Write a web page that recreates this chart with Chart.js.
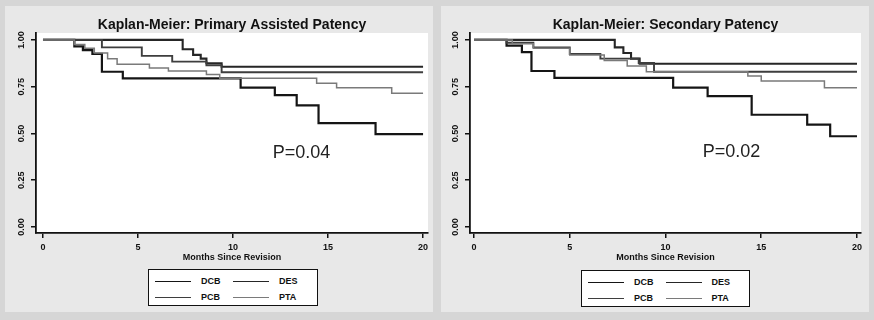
<!DOCTYPE html>
<html>
<head>
<meta charset="utf-8">
<script src="https://cdn.jsdelivr.net/npm/chart.js@4.4.1/dist/chart.umd.min.js"></script>
<style>
  body { margin: 0; width: 874px; height: 320px; background: #d6d6d6; position: relative; overflow: hidden; font-family: "Liberation Sans", Arial, sans-serif; }
  .panel { position: absolute; top: 6px; width: 428px; height: 306px; background: #e8e8e8; }
  canvas { position: absolute; top: 0; }
  .legend { position: absolute; border: 1.5px solid #111; background: #fff; box-sizing: border-box; display: grid; grid-template-columns: 1fr 1fr; padding: 4px 6px; row-gap: 2px; }
  .legend div { display: flex; align-items: center; font: bold 9px "Liberation Sans", Arial, sans-serif; color: #111; height: 14px; }
  .legend span.ln { display: inline-block; width: 36px; margin-right: 10px; }
</style>
</head>
<body>
<div class="panel" style="left:5px"></div>
<div class="panel" style="left:441px"></div>
<canvas id="km_primary" width="437" height="320" style="left:0"></canvas>
<canvas id="km_secondary" width="437" height="320" style="left:437px"></canvas>
<div class="legend" id="leg_primary" style="left:148px; top:269px; width:170px; height:37px"></div>
<div class="legend" id="leg_secondary" style="left:581px; top:270px; width:169px; height:37px"></div>
<script>
// Curvas Kaplan-Meier (mes de la caida, supervivencia tras la caida)
const grupos = ['DCB', 'DES', 'PCB', 'PTA'];
const colores = ['#151515', '#262626', '#3e3e3e', '#7a7a7a'];
const grosores = [2.2, 2.1, 1.9, 1.5];
const xTicks = [0, 5, 10, 15, 20];
const yTicks = [0, 0.25, 0.5, 0.75, 1];

// Primary assisted patency
const priDcbT = [0, 1.65, 2.1, 2.6, 3.1, 4.2, 10.4, 12.2, 13.35, 14.5, 17.5, 20];
const priDcbS = [1, 0.965, 0.945, 0.925, 0.83, 0.795, 0.745, 0.705, 0.65, 0.555, 0.497, 0.497];
const priDesT = [0, 7.35, 7.9, 8.3, 8.6, 9.4, 20];
const priDesS = [1, 0.95, 0.92, 0.9, 0.875, 0.857, 0.857];
const priPcbT = [0, 3.1, 5.2, 6.8, 8.6, 9.4, 20];
const priPcbS = [1, 0.96, 0.915, 0.884, 0.865, 0.827, 0.827];
const priPtaT = [0, 1.65, 2.2, 2.7, 3.4, 3.9, 5.6, 6.6, 8.6, 9.3, 14.4, 15.45, 18.35, 20];
const priPtaS = [1, 0.975, 0.955, 0.93, 0.9, 0.87, 0.85, 0.834, 0.815, 0.795, 0.768, 0.745, 0.715, 0.715];

// Secondary patency
const secDcbT = [0, 1.7, 2.5, 3.0, 4.2, 10.4, 12.2, 14.5, 17.4, 18.6, 20];
const secDcbS = [1, 0.97, 0.935, 0.834, 0.797, 0.745, 0.7, 0.6, 0.547, 0.485, 0.485];
const secDesT = [0, 7.35, 7.8, 8.2, 8.65, 20];
const secDesS = [1, 0.96, 0.93, 0.9, 0.873, 0.873];
const secPcbT = [0, 1.7, 3.1, 5.0, 6.6, 8.6, 9.4, 20];
const secPcbS = [1, 0.985, 0.96, 0.925, 0.9, 0.877, 0.83, 0.83];
const secPtaT = [0, 2.0, 3.1, 5.0, 6.8, 8.0, 9.0, 14.3, 15.0, 18.3, 20];
const secPtaS = [1, 0.98, 0.955, 0.92, 0.89, 0.86, 0.83, 0.807, 0.78, 0.745, 0.745];

const pares = (t, s) => t.map((v, i) => ({ x: v, y: s[i] }));

// textos propios: titulo, etiquetas giradas del eje y, valor P
const textosKM = {
    id: 'textosKM',
    beforeDraw(chart) {
        const { ctx, chartArea: a } = chart;
        ctx.save();
        ctx.fillStyle = '#fff';
        ctx.fillRect(a.left, a.top, a.right - a.left, a.bottom - a.top);
        ctx.restore();
    },
    afterDraw(chart, args, o) {
        const { ctx, chartArea: a, scales } = chart;
        ctx.save();
        ctx.fillStyle = '#111';
        ctx.textAlign = 'center';
        ctx.textBaseline = 'middle';
        ctx.font = 'bold 14px "Liberation Sans", Arial, sans-serif';
        ctx.fillText(o.titulo, (a.left + a.right) / 2, 25);
        ctx.font = 'bold 9px "Liberation Sans", Arial, sans-serif';
        yTicks.forEach(v => {
            ctx.save();
            ctx.translate(a.left - 14, scales.y.getPixelForValue(v));
            ctx.rotate(-Math.PI / 2);
            ctx.fillText(v.toFixed(2), 0, 0);
            ctx.restore();
        });
        ctx.font = '18px "Liberation Sans", Arial, sans-serif';
        ctx.fillStyle = '#222';
        ctx.fillText(o.pTexto, scales.x.getPixelForValue(o.pX), scales.y.getPixelForValue(o.pY));
        ctx.restore();
    }
};

function graficarKM(id, series, opts) {
    new Chart(document.getElementById(id), {
        type: 'line',
        data: {
            datasets: series.map((d, i) => ({
                label: grupos[i], data: d, stepped: true, borderColor: colores[i],
                borderWidth: grosores[i], pointRadius: 0, fill: false, order: 4 - i
            }))
        },
        options: {
            responsive: false, animation: false, events: [],
            layout: { padding: { left: 0, top: 33, right: opts.derecha, bottom: 57 } },
            scales: {
                x: {
                    type: 'linear', min: opts.xMin, max: opts.xMax,
                    afterBuildTicks: s => { s.ticks = xTicks.map(v => ({ value: v })); },
                    afterFit: s => { s.height = 30; },
                    ticks: { color: '#111', font: { size: 9, weight: 'bold', family: '"Liberation Sans", Arial' }, padding: 4, maxRotation: 0 },
                    grid: { drawOnChartArea: false, drawTicks: true, tickLength: 5, color: '#111', lineWidth: 1.5 },
                    border: { display: true, color: '#111', width: 1.8 },
                    title: { display: true, text: 'Months Since Revision', color: '#111', padding: 0, font: { size: 9, weight: 'bold', family: '"Liberation Sans", Arial' } }
                },
                y: {
                    type: 'linear', min: -0.032, max: 1.037,
                    afterBuildTicks: s => { s.ticks = yTicks.map(v => ({ value: v })); },
                    afterFit: s => { s.width = opts.izquierda; },
                    ticks: { display: false },
                    grid: { drawOnChartArea: false, drawTicks: true, tickLength: 5, color: '#111', lineWidth: 1.5 },
                    border: { display: true, color: '#111', width: 1.8 }
                }
            },
            plugins: {
                legend: { display: false }, tooltip: { enabled: false },
                textosKM: { titulo: opts.titulo, pTexto: opts.pTexto, pX: opts.pX, pY: opts.pY }
            }
        },
        plugins: [textosKM]
    });
}

function leyenda(id) {
    document.getElementById(id).innerHTML = grupos.map((g, i) =>
        `<div><span class="ln" style="border-top:${grosores[i] - 0.4}px solid ${colores[i]}"></span>${g}</div>`).join('');
}

graficarKM('km_primary',
    [pares(priDcbT, priDcbS), pares(priDesT, priDesS), pares(priPcbT, priPcbS), pares(priPtaT, priPtaS)],
    { titulo: 'Kaplan-Meier: Primary Assisted Patency', pTexto: 'P=0.04', pX: 13.6, pY: 0.396,
      xMin: -0.368, xMax: 20.26, izquierda: 36, derecha: 9 });

graficarKM('km_secondary',
    [pares(secDcbT, secDcbS), pares(secDesT, secDesS), pares(secPcbT, secPcbS), pares(secPtaT, secPtaS)],
    { titulo: 'Kaplan-Meier: Secondary Patency', pTexto: 'P=0.02', pX: 13.45, pY: 0.40,
      xMin: -0.21, xMax: 20.21, izquierda: 33, derecha: 13 });

leyenda('leg_primary');
leyenda('leg_secondary');
</script>
</body>
</html>
